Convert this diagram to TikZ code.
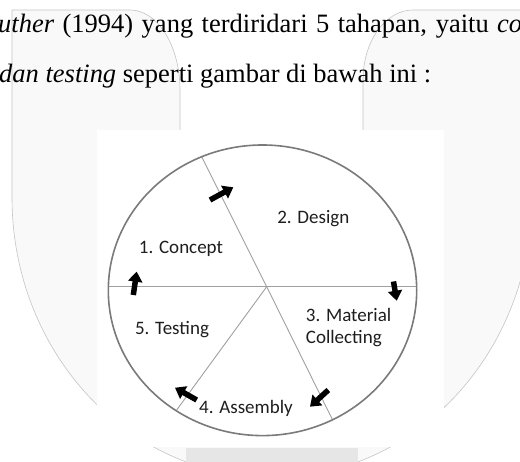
\documentclass[tikz,border=0pt]{standalone}
\usepackage{fontspec}
\setmainfont{Liberation Serif}
\newfontfamily\figfont{Carlito}
\usetikzlibrary{arrows.meta}
\definecolor{wmfill}{HTML}{F9F9F9}
\definecolor{wmline}{HTML}{C4C4C4}
\definecolor{wmbar}{HTML}{E6E6E6}
\definecolor{rim}{HTML}{7A7A7A}
\definecolor{spoke}{HTML}{A0A0A0}
\definecolor{lbl}{HTML}{1E1E1E}
\tikzset{
  wm/.style={fill=wmfill, draw=wmline, line width=0.6pt},
  bodytext/.style={inner sep=0pt, anchor=base west, font=\fontsize{26.5}{30}\selectfont},
  stage/.style={inner sep=0pt, anchor=base, text=lbl, font=\figfont\fontsize{19}{22}\selectfont},
  spokeline/.style={draw=spoke, line width=0.9pt},
  rimline/.style={draw=rim, line width=1.6pt},
  cyclearrow/.style={line width=5.5pt, -{Triangle[length=10pt,width=14pt]}}
}
\begin{document}
\begin{tikzpicture}[x=1pt,y=-1pt]
\useasboundingbox (0,0) rectangle (520,462);
\clip (0,0) rectangle (520,462);
% watermark
\path[wm] (12,10) -- (130,10) arc[start angle=-90,end angle=0,x radius=50,y radius=80]
  -- (180,140) -- (363,140) -- (363,80)
  arc[start angle=180,end angle=270,x radius=50,y radius=70]
  -- (540,10) -- (532,197.6)
  arc[start angle=0,end angle=180,x radius=260,y radius=280] -- cycle;
\fill[wmbar] (186,448) rectangle (358,470);
% body text
\node[bodytext] (line1) at (-2,33) {\makebox[524pt][s]{\textit{uther} (1994) yang terdiridari 5 tahapan, yaitu \textit{co}}};
\node[bodytext] (line2) at (-1,83) {\textit{dan testing} seperti gambar di bawah ini :};
% figure
\fill[white] (97,130) rectangle (444,447);
\node[inner sep=0pt] (hub) at (266.7,286.7) {};
\coordinate (rimL) at (108.3,286.7);
\coordinate (rimR) at (416.7,286.7);
\coordinate (rimT) at (201.7,156.7);
\coordinate (rimB) at (332.3,419.3);
\coordinate (rimBL) at (176.7,410);
\path[spokeline] (rimL) -- (rimR);
\path[spokeline] (rimT) -- (hub.center) -- (rimB);
\path[spokeline] (hub.center) -- (rimBL);
\path[rimline] (262.5,290.3) ellipse[x radius=154.2,y radius=145.3];
% labels
\node[stage] (concept) at (181,253.3) {1. Concept};
\node[stage] (design) at (313.3,223.3) {2. Design};
\node[stage, anchor=base west] (material) at (305.7,321.7) {3. Material};
\node[stage, anchor=base west] (collecting) at (305.7,343.3) {Collecting};
\node[stage] (testing) at (172,335) {5. Testing};
\node[stage] (assembly) at (246,413.3) {4. Assembly};
% cycle arrows
\coordinate (a1s) at (210,200);   \coordinate (a1e) at (233.3,187.3);
\coordinate (a2s) at (393.5,281.5); \coordinate (a2e) at (396.7,300.7);
\coordinate (a3s) at (328.3,390);  \coordinate (a3e) at (310,406.7);
\coordinate (a4s) at (196.7,400);  \coordinate (a4e) at (175,387.7);
\coordinate (a5s) at (133.3,295);  \coordinate (a5e) at (136.7,271.7);
\draw[cyclearrow] (a1s) -- (a1e);
\draw[cyclearrow] (a2s) -- (a2e);
\draw[cyclearrow] (a3s) -- (a3e);
\draw[cyclearrow] (a4s) -- (a4e);
\draw[cyclearrow] (a5s) -- (a5e);
\end{tikzpicture}
\end{document}
